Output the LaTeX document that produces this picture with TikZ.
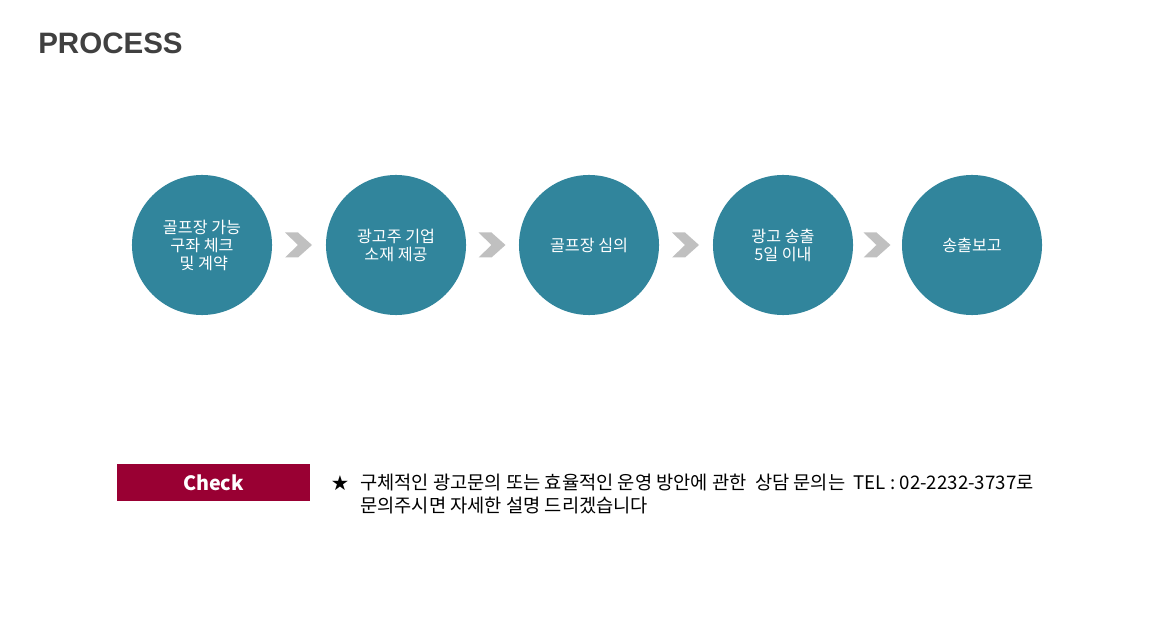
\documentclass[tikz,border=0pt]{standalone}
\usepackage{fontspec}
\setmainfont{Liberation Sans}
\newfontfamily\kofont{Noto Sans CJK KR}
\usetikzlibrary{calc,positioning}
\definecolor{proc-teal}{HTML}{31859C}
\definecolor{proc-gray}{HTML}{C0C0C0}
\definecolor{proc-red}{HTML}{990033}
\definecolor{proc-ink}{HTML}{404040}

\begin{document}
\begin{tikzpicture}[x=0.025cm,y=-0.025cm,
  stepcircle/.style={circle,fill=proc-teal,minimum size=3.5cm,inner sep=0pt,
    align=center,text=white,font=\kofont\fontsize{11.5}{12.8}\selectfont},
  chev/.style={fill=proc-gray}]
  \useasboundingbox (0,0) rectangle (1175,629);

  % Overskrift
  \node[anchor=base west,inner sep=0pt,text=proc-ink,
    font=\bfseries\fontsize{21}{24}\selectfont] (title) at (38,54) {PROCESS};

  % Trin i processen
  \node[stepcircle] (s1) at (202,245) {골프장 가능\\구좌 체크\\\ 및 계약};
  \node[stepcircle] (s2) at (396,245) {광고주 기업\\소재 제공};
  \node[stepcircle] (s3) at (589,245) {골프장 심의};
  \node[stepcircle] (s4) at (783,245) {광고 송출\\5일 이내};
  \node[stepcircle] (s5) at (972,245) {송출보고};

  % Pile mellem trinene
  \foreach \a/\b in {s1/s2,s2/s3,s3/s4,s4/s5} {
    \coordinate (m) at ($(\a)!0.5!(\b)$);
    \fill[chev] ($(m)+(-14,-12.5)$) -- ++(13,0) -- ++(14,12.5) -- ++(-14,12.5)
      -- ++(-13,0) -- ++(13,-12.5) -- cycle;
  }

  % Check-boks
  \node[fill=proc-red,text=white,minimum width=4.825cm,minimum height=0.925cm,
    inner sep=0pt,font=\kofont\bfseries\fontsize{14}{16}\selectfont] (check) at (213.5,482.5) {Check};

  % Bemaerkning
  \node[anchor=base,inner sep=0pt,font=\kofont\fontsize{12}{14}\selectfont] (star) at (340,489) {★};
  \node[anchor=base west,inner sep=0pt,align=left,
    font=\kofont\fontsize{13.3}{16.3}\selectfont] (note) at (360,512)
    {구체적인 광고문의 또는 효율적인 운영 방안에 관한\ \ 상담 문의는\ \ TEL : 02-2232-3737로\\문의주시면 자세한 설명 드리겠습니다};
\end{tikzpicture}
\end{document}
